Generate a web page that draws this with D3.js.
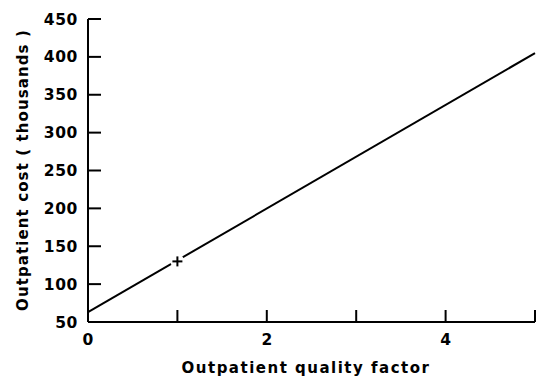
<!DOCTYPE html>
<html>
<head>
<meta charset="utf-8">
<script src="https://cdn.jsdelivr.net/npm/d3@7"></script>
<style>
  html, body { margin: 0; padding: 0; background: #fff; }
  svg text { font-family: "DejaVu Sans", sans-serif; fill: #000; }
</style>
</head>
<body>
<div id="chart"></div>
<script>
// Fitted cost line (quality factor -> cost in thousands)
const lineX = [0, 5];
const lineY = [63, 405];
// Marked point on the line
const markX = [1];
const markY = [130];
// Axis ticks
const xTicks = [1, 2, 3, 4, 5];
const xTickLabels = [0, 2, 4];
const yTicks = [50, 100, 150, 200, 250, 300, 350, 400, 450];

const width = 536;
const height = 379;
const margin = { top: 19, right: 1, bottom: 57, left: 88 };

const svg = d3.select('#chart')
  .append('svg')
  .attr('width', width)
  .attr('height', height);

const x = d3.scaleLinear()
  .domain([0, 5])
  .range([margin.left, width - margin.right]);

const y = d3.scaleLinear()
  .domain([50, 450])
  .range([height - margin.bottom, margin.top]);

// Axis lines
svg.append('line')
  .attr('x1', x(0)).attr('x2', x(5))
  .attr('y1', y(50)).attr('y2', y(50))
  .attr('stroke', '#000').attr('stroke-width', 2);

svg.append('line')
  .attr('x1', x(0)).attr('x2', x(0))
  .attr('y1', y(50)).attr('y2', y(450))
  .attr('stroke', '#000').attr('stroke-width', 2);

// Ticks point inward
svg.selectAll('line.ytick')
  .data(yTicks)
  .join('line')
  .attr('class', 'ytick')
  .attr('x1', x(0)).attr('x2', x(0) + 13)
  .attr('y1', d => y(d)).attr('y2', d => y(d))
  .attr('stroke', '#000').attr('stroke-width', 2);

svg.selectAll('line.xtick')
  .data(xTicks)
  .join('line')
  .attr('class', 'xtick')
  .attr('x1', d => x(d)).attr('x2', d => x(d))
  .attr('y1', y(50)).attr('y2', y(50) - 12)
  .attr('stroke', '#000').attr('stroke-width', 2);

// Tick labels
svg.selectAll('text.ylab')
  .data(yTicks)
  .join('text')
  .attr('class', 'ylab')
  .attr('x', x(0) - 10)
  .attr('y', d => y(d) + 5.5)
  .attr('text-anchor', 'end')
  .attr('font-size', 15.5)
  .attr('font-weight', 'bold')
  .attr('letter-spacing', 0.6)
  .text(d => d);

svg.selectAll('text.xlab')
  .data(xTickLabels)
  .join('text')
  .attr('class', 'xlab')
  .attr('x', d => x(d))
  .attr('y', y(50) + 23)
  .attr('text-anchor', 'middle')
  .attr('font-size', 15.5)
  .attr('font-weight', 'bold')
  .text(d => d);

// Axis titles
svg.append('text')
  .attr('x', 306)
  .attr('y', 373)
  .attr('text-anchor', 'middle')
  .attr('font-size', 15)
  .attr('font-weight', 'bold')
  .attr('letter-spacing', 1.5)
  .text('Outpatient quality factor');

svg.append('text')
  .attr('transform', 'translate(28, 170) rotate(-90)')
  .attr('text-anchor', 'middle')
  .attr('font-size', 15)
  .attr('font-weight', 'bold')
  .attr('letter-spacing', 1.1)
  .text('Outpatient cost ( thousands )');

// Cost line
const pts = lineX.map((d, i) => [d, lineY[i]]);
svg.append('path')
  .datum(pts)
  .attr('fill', 'none')
  .attr('stroke', '#000')
  .attr('stroke-width', 2)
  .attr('d', d3.line().x(d => x(d[0])).y(d => y(d[1])));

// Marker with a small gap in the line around it
const marks = markX.map((d, i) => [d, markY[i]]);
svg.selectAll('circle.gap')
  .data(marks)
  .join('circle')
  .attr('class', 'gap')
  .attr('cx', d => x(d[0]))
  .attr('cy', d => y(d[1]))
  .attr('r', 7)
  .attr('fill', '#fff');

const mk = svg.selectAll('g.mark')
  .data(marks)
  .join('g')
  .attr('class', 'mark')
  .attr('transform', d => `translate(${x(d[0])}, ${y(d[1])})`);
mk.append('line').attr('x1', -5).attr('x2', 5).attr('stroke', '#000').attr('stroke-width', 2);
mk.append('line').attr('y1', -5).attr('y2', 5).attr('stroke', '#000').attr('stroke-width', 2);
</script>
</body>
</html>
